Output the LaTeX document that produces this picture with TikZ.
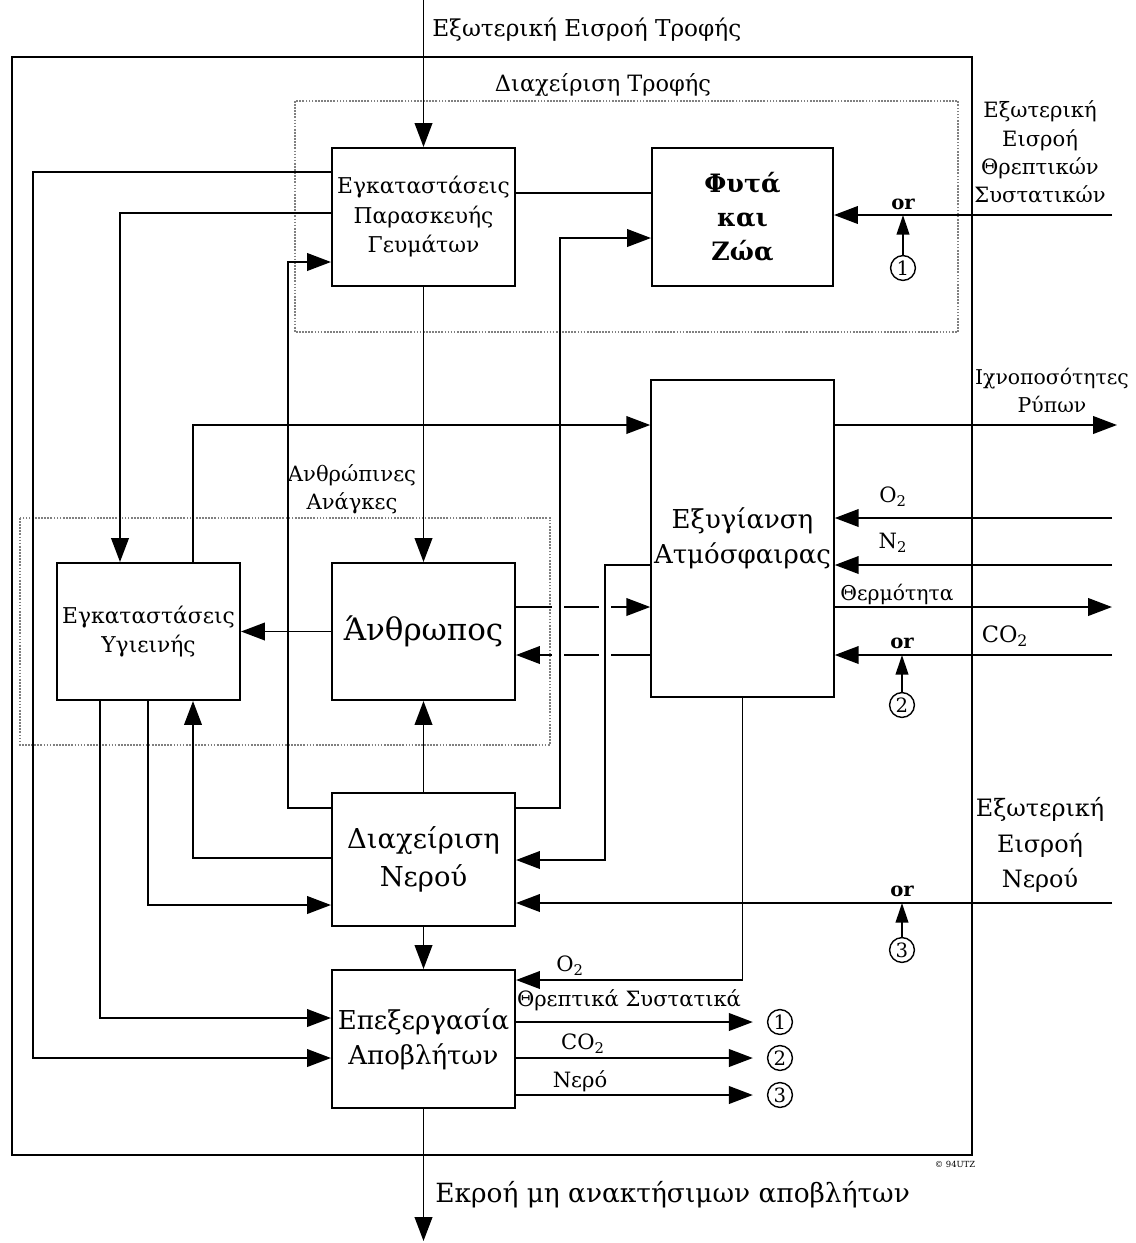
\documentclass[tikz,border=0pt]{standalone}
\usepackage{fontspec}
\setmainfont{DejaVu Serif}
\usetikzlibrary{arrows.meta}
\newcommand\txtsmall{\fontsize{15}{20}\selectfont}
\newcommand\txtbox{\fontsize{15.5}{21}\selectfont}
\newcommand\txtmid{\fontsize{18.5}{25}\selectfont}
\newcommand\txtbig{\fontsize{22}{26}\selectfont}
\newcommand\txtbold{\fontsize{18}{24}\selectfont\bfseries}
\newcommand\txtor{\fontsize{14}{14}\selectfont\bfseries}
\tikzset{
  box/.style={draw, line width=1.4pt, minimum width=4.575cm, minimum height=3.45cm, align=center, inner sep=2pt},
  flow/.style={line width=1.4pt},
  arr/.style={line width=1.4pt, -{Triangle[length=17pt,width=12.5pt]}},
  orarr/.style={line width=1.4pt, -{Triangle[length=14pt,width=9pt]}},
  group/.style={draw=gray, densely dotted, line width=1.2pt},
  num/.style={circle, draw, line width=1pt, inner sep=0pt, minimum size=0.62cm, font=\fontsize{14}{14}\selectfont},
  lbl/.style={align=center, inner sep=0pt}
}
\begin{document}
\begin{tikzpicture}[x=0.025cm, y=-0.025cm]
\useasboundingbox (0,0) rectangle (1136,1243);
% frames
\draw[line width=1.6pt] (12,57) rectangle (972,1155);
\draw[group] (295,101) rectangle (958,332);
\draw[group] (20,518) rectangle (550,745);
\node[lbl, font=\fontsize{16}{20}\selectfont] (foodlbl) at (603,85) {Διαχείριση Τροφής};
\node[lbl, font=\txtsmall] (needlbl) at (352,489) {Ανθρώπινες\\Ανάγκες};
% boxes
\node[box, font=\txtbox] (prep) at (423.5,217) {Εγκαταστάσεις\\Παρασκευής\\Γευμάτων};
\node[box, minimum width=4.525cm, font=\txtbold] (plants) at (742.5,217) {Φυτά\\και\\Ζώα};
\node[box, minimum width=4.525cm, minimum height=7.925cm, font=\txtmid] (atmo) at (742.5,538.5) {Εξυγίανση\\Ατμόσφαιρας};
\node[box, minimum height=3.425cm, font=\txtbox] (sanit) at (148.5,631.5) {Εγκαταστάσεις\\Υγιεινής};
\node[box, minimum height=3.425cm, font=\txtbig] (human) at (423.5,631.5) {Άνθρωπος};
\node[box, minimum height=3.325cm, font=\fontsize{19.5}{27}\selectfont] (water) at (423.5,859.5) {Διαχείριση\\Νερού};
\node[box, font=\txtmid] (waste) at (423.5,1039) {Επεξεργασία\\Αποβλήτων};
% outside ends
\coordinate (foodin) at (425,0);
\coordinate (wasteout) at (425,1241);
\coordinate (nutrin) at (1112,215);
\coordinate (traceout) at (1117,425);
\coordinate (o2in) at (1112,518);
\coordinate (n2in) at (1112,565);
\coordinate (heatout) at (1112,607);
\coordinate (co2in) at (1112,655);
\coordinate (waterin) at (1112,903);
% food
\draw[arr] (prep.north |- foodin) -- (prep.north);
\node[lbl, font=\fontsize{16.5}{20}\selectfont, anchor=west] (foodtxt) at (432,30) {Εξωτερική Εισροή Τροφής};
\draw[flow] (prep.east |- 0,193) -- (plants.west |- 0,193);
\draw[arr] (prep.west |- 0,172) -| (33,1058) -- (waste.west |- 0,1058);
\draw[arr] (prep.west |- 0,213) -| (sanit.north -| 120,0);
\draw[arr] (prep.south) -- (human.north);
\draw[arr] (water.north) -- (human.south);
\draw[arr] (human.west) -- (sanit.east);
\draw[arr] (sanit.north -| 193,0) |- (atmo.west |- 0,425);
% human and air
\draw[arr] (human.east |- 0,607) -- (atmo.west |- 0,607);
\draw[arr] (atmo.west |- 0,655) -- (human.east |- 0,655);
\fill[white] (552,600) rectangle (564,662);
\fill[white] (599,600) rectangle (611,662);
% sanitation and water
\draw[arr] (sanit.south -| 100,0) |- (waste.west |- 0,1018);
\draw[arr] (sanit.south -| 148,0) |- (water.west |- 0,905);
\draw[arr] (water.west |- 0,858) -| (sanit.south -| 193,0);
\draw[arr] (water.west |- 0,808) -| (288,262) -- (prep.west |- 0,262);
\draw[arr] (water.east |- 0,808) -| (560,238) -- (plants.west |- 0,238);
\draw[arr] (atmo.west |- 0,565) -| (605,860) -- (water.east |- 0,860);
\draw[arr] (waterin) -- (water.east |- waterin);
\draw[arr] (water.south) -- (waste.north);
\draw[arr] (atmo.south) |- (waste.east |- 0,980);
\node[lbl, font=\txtsmall] (o2w) at (570,966) {O\textsubscript{2}};
% waste
\draw[arr] (waste.south) -- (waste.south |- wasteout);
\node[lbl, font=\fontsize{18.8}{22}\selectfont, anchor=west] (wastetxt) at (435,1195) {Εκροή μη ανακτήσιμων αποβλήτων};
\node[num] (r1) at (780,1022) {1};
\node[num] (r2) at (780,1058) {2};
\node[num] (r3) at (780,1095) {3};
\draw[arr, shorten >=10pt] (waste.east |- r1) -- (r1.west);
\draw[arr, shorten >=10pt] (waste.east |- r2) -- (r2.west);
\draw[arr, shorten >=10pt] (waste.east |- r3) -- (r3.west);
\node[lbl, font=\txtsmall] (nutrtxt) at (629,1000) {Θρεπτικά Συστατικά};
\node[lbl, font=\txtsmall] (co2w) at (583,1044) {CO\textsubscript{2}};
\node[lbl, font=\txtsmall] (watertxt) at (580,1081) {Νερό};
% plants
\draw[arr] (nutrin) -- (plants.east |- nutrin);
\node[lbl, font=\txtsmall] (nutrlbl) at (1040,152) {Εξωτερική\\Εισροή\\Θρεπτικών\\Συστατικών};
\node[num] (one) at (903,268) {1};
\node[lbl, font=\txtor] (or1) at (903,204) {or};
\draw[orarr] (one.north) -- (one.north |- nutrin);
% air
\draw[arr] (atmo.east |- traceout) -- (traceout);
\node[lbl, font=\fontsize{14.5}{20}\selectfont] (tracelbl) at (1052,390) {Ιχνοποσότητες\\Ρύπων};
\draw[arr] (o2in) -- (atmo.east |- o2in);
\node[lbl, font=\txtsmall] (o2lbl) at (893,497) {O\textsubscript{2}};
\draw[arr] (n2in) -- (atmo.east |- n2in);
\node[lbl, font=\txtsmall] (n2lbl) at (893,543) {N\textsubscript{2}};
\draw[arr] (atmo.east |- heatout) -- (heatout);
\node[lbl, font=\fontsize{14.5}{14}\selectfont] (heatlbl) at (897,594) {Θερμότητα};
\draw[arr] (co2in) -- (atmo.east |- co2in);
\node[lbl, font=\fontsize{16}{16}\selectfont] (co2lbl) at (1005,636) {CO\textsubscript{2}};
\node[num] (two) at (902,705) {2};
\node[lbl, font=\txtor] (or2) at (902,643) {or};
\draw[orarr] (two.north) -- (two.north |- co2in);
% water in
\node[lbl, font=\fontsize{17}{25}\selectfont] (waterlbl) at (1040,845) {Εξωτερική\\Εισροή\\Νερού};
\node[num] (three) at (902,950) {3};
\node[lbl, font=\txtor] (or3) at (902,891) {or};
\draw[orarr] (three.north) -- (three.north |- waterin);
\node[font=\fontsize{6}{6}\selectfont] (mark) at (955,1164) {© 94UTZ};
\end{tikzpicture}
\end{document}
